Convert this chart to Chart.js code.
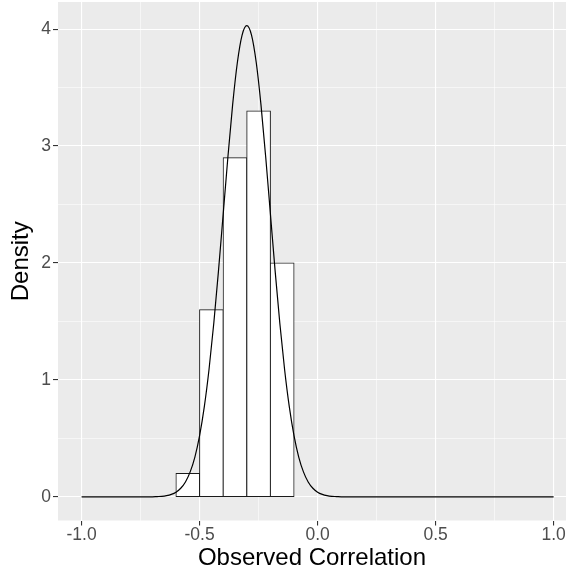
<!DOCTYPE html>
<html>
<head>
<meta charset="utf-8">
<title>Observed Correlation</title>
<script src="https://cdn.jsdelivr.net/npm/chart.js@4.4.1/dist/chart.umd.min.js"></script>
<style>
  html, body { margin: 0; padding: 0; background: #ffffff; }
  #wrap { width: 566px; height: 575px; }
</style>
</head>
<body>
<div id="wrap"><canvas id="chart" width="566" height="575"></canvas></div>
<script>
// Histogram of observed correlations (bin width 0.1), given by bin centre
const binCenters = [-0.55, -0.45, -0.35, -0.25, -0.15];
const binDensity = [0.2, 1.6, 2.9, 3.3, 2.0];

// Fitted density curve
const curveX = [-1.00, -0.90, -0.80, -0.70, -0.68, -0.66, -0.64, -0.62, -0.60, -0.58, -0.56, -0.54,
                -0.52, -0.50, -0.48, -0.46, -0.44, -0.42, -0.40, -0.38, -0.36, -0.34, -0.32, -0.30,
                -0.28, -0.26, -0.24, -0.22, -0.20, -0.18, -0.16, -0.14, -0.12, -0.10, -0.08, -0.06,
                -0.04, -0.02, 0.00, 0.02, 0.04, 0.06, 0.08, 0.10, 0.20, 0.40, 0.60, 0.80, 1.00];
const curveY = [0.000, 0.000, 0.000, 0.001, 0.003, 0.005, 0.011, 0.022, 0.041, 0.074, 0.128, 0.214,
                0.341, 0.524, 0.772, 1.092, 1.483, 1.933, 2.420, 2.908, 3.354, 3.714, 3.949, 4.030,
                3.949, 3.714, 3.354, 2.908, 2.420, 1.933, 1.483, 1.092, 0.772, 0.524, 0.341, 0.214,
                0.128, 0.074, 0.041, 0.022, 0.011, 0.005, 0.003, 0.001, 0.000, 0.000, 0.000, 0.000, 0.000];

// Axis ticks: labelled majors plus unlabelled minor grid positions
const xMajorTicks = [-1.0, -0.5, 0.0, 0.5, 1.0];
const xGridTicks = [-1.0, -0.75, -0.5, -0.25, 0.0, 0.25, 0.5, 0.75, 1.0];
const yMajorTicks = [0, 1, 2, 3, 4];
const yGridTicks = [0, 0.5, 1, 1.5, 2, 2.5, 3, 3.5, 4];

const FONT = "'Liberation Sans', Arial, Helvetica, sans-serif";
const isMajor = (list, v) => list.some(t => Math.abs(t - v) < 1e-9);

const panelBackground = {
  id: 'panelBackground',
  beforeDraw(chart) {
    const { ctx, chartArea: a } = chart;
    ctx.save();
    ctx.fillStyle = '#EBEBEB';
    ctx.fillRect(a.left, a.top, a.right - a.left, a.bottom - a.top);
    ctx.restore();
  }
};

const gridFor = (majors) => ({
  offset: false,
  color: '#FFFFFF',
  lineWidth: c => (c.tick && isMajor(majors, c.tick.value)) ? 1.1 : 0.55,
  drawTicks: true,
  tickLength: 5,
  tickColor: c => (c.tick && isMajor(majors, c.tick.value)) ? '#333333' : 'rgba(0,0,0,0)',
  tickWidth: 1.1
});

// Fixed axis box sizes, without the automatic label overhang padding
const fixBox = (s, size) => {
  if (s.isHorizontal()) s.height = size; else s.width = size;
  s.paddingTop = 0; s.paddingBottom = 0; s.paddingLeft = 0; s.paddingRight = 0;
};

new Chart(document.getElementById('chart'), {
  data: {
    datasets: [
      {
        type: 'line',
        order: 0,
        data: curveX.map((x, i) => ({ x, y: curveY[i] })),
        borderColor: '#000000',
        borderWidth: 1.2,
        pointRadius: 0,
        cubicInterpolationMode: 'monotone',
        fill: false
      },
      {
        type: 'bar',
        order: 1,
        data: binCenters.map((x, i) => ({ x, y: binDensity[i] })),
        backgroundColor: '#FFFFFF',
        borderColor: '#1a1a1a',
        borderWidth: 1,
        borderSkipped: false,
        inflateAmount: 0.5,
        barPercentage: 1.0,
        categoryPercentage: 1.0
      }
    ]
  },
  options: {
    responsive: false,
    animation: false,
    devicePixelRatio: 1,
    layout: { autoPadding: false, padding: { top: 2, right: 0, bottom: 0, left: 0 } },
    plugins: { legend: { display: false }, tooltip: { enabled: false } },
    scales: {
      x: {
        type: 'linear',
        offset: false,
        min: -1.1,
        max: 1.0525,
        afterBuildTicks: s => { s.ticks = xGridTicks.map(v => ({ value: v })); },
        afterFit: s => fixBox(s, 54.5),
        border: { display: false },
        grid: gridFor(xMajorTicks),
        ticks: {
          autoSkip: false,
          maxRotation: 0,
          padding: 0.5,
          color: '#4D4D4D',
          font: { family: FONT, size: 17.5, lineHeight: 1 },
          callback: v => isMajor(xMajorTicks, v) ? v.toFixed(1) : ''
        },
        title: {
          display: true,
          text: 'Observed Correlation',
          color: '#000000',
          font: { family: FONT, size: 24, lineHeight: 1 },
          padding: { top: 0, bottom: 4.5 }
        }
      },
      y: {
        type: 'linear',
        offset: false,
        min: -0.2015,
        max: 4.2315,
        afterBuildTicks: s => { s.ticks = yGridTicks.map(v => ({ value: v })); },
        afterFit: s => fixBox(s, 58),
        border: { display: false },
        grid: gridFor(yMajorTicks),
        ticks: {
          autoSkip: false,
          padding: 2,
          color: '#4D4D4D',
          font: { family: FONT, size: 17.5, lineHeight: 1 },
          callback: v => isMajor(yMajorTicks, v) ? String(v) : ''
        },
        title: {
          display: true,
          text: 'Density',
          color: '#000000',
          font: { family: FONT, size: 24, lineHeight: 1 },
          padding: { top: 9, bottom: 0 }
        }
      }
    }
  },
  plugins: [panelBackground]
});
</script>
</body>
</html>
